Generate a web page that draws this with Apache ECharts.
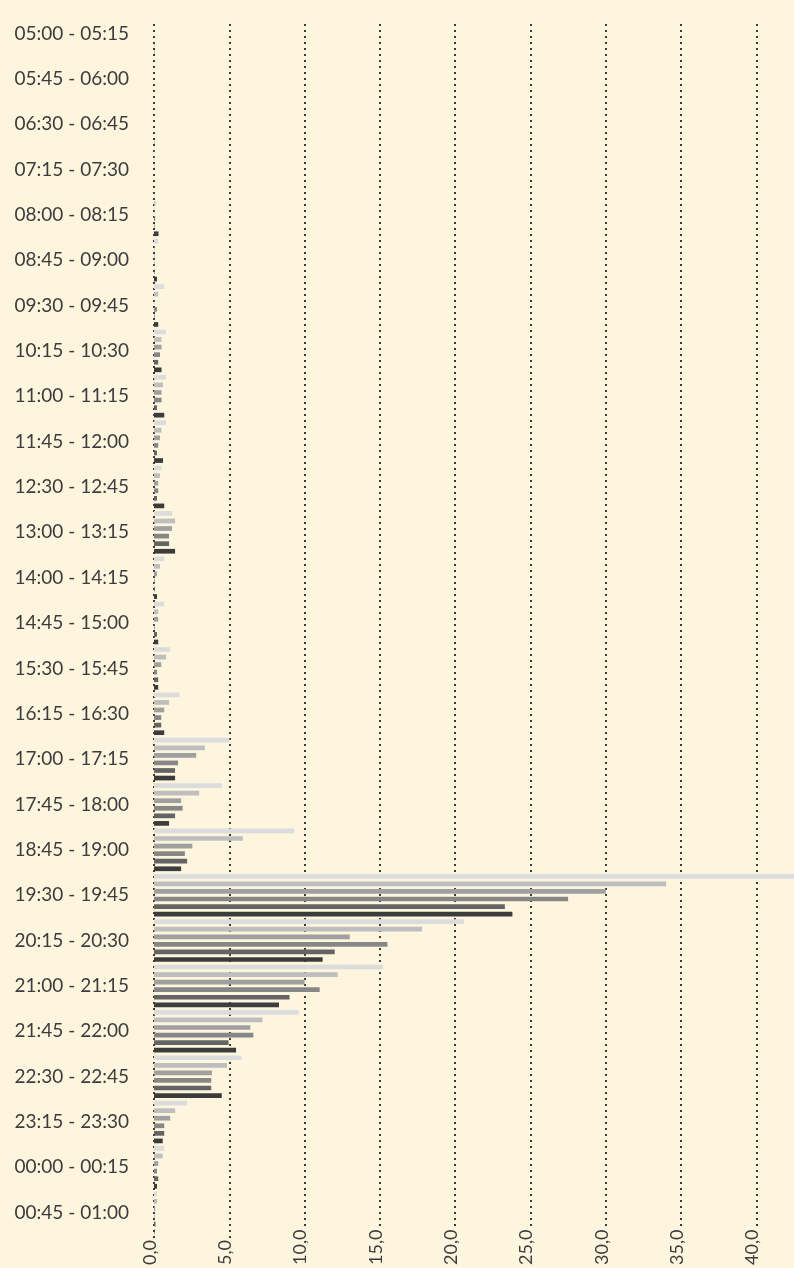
<!DOCTYPE html>
<html>
<head>
<meta charset="utf-8">
<script src="https://cdn.jsdelivr.net/npm/echarts@6/dist/echarts.min.js"></script>
<style>
  html, body { margin: 0; padding: 0; background: #fdf5de; }
  #chart { width: 794px; height: 1268px; }
</style>
</head>
<body>
<div id="chart"></div>
<script>
// Time-slot categories (top to bottom)
const categories = ['05:00 - 05:15','05:45 - 06:00','06:30 - 06:45','07:15 - 07:30','08:00 - 08:15','08:45 - 09:00','09:30 - 09:45','10:15 - 10:30','11:00 - 11:15','11:45 - 12:00','12:30 - 12:45','13:00 - 13:15','14:00 - 14:15','14:45 - 15:00','15:30 - 15:45','16:15 - 16:30','17:00 - 17:15','17:45 - 18:00','18:45 - 19:00','19:30 - 19:45','20:15 - 20:30','21:00 - 21:15','21:45 - 22:00','22:30 - 22:45','23:15 - 23:30','00:00 - 00:15','00:45 - 01:00'];

// Six series, lightest to darkest
const series1 = [0,0,0,0.02,0.05,0.28,0.68,0.8,0.8,0.8,0.5,1.2,0.68,0.68,1.08,1.68,5.0,4.5,9.3,42.5,20.6,15.2,9.6,5.8,2.2,0.68,0.2];
const series2 = [0,0,0,0.02,0.1,0.03,0.28,0.5,0.6,0.5,0.4,1.4,0.4,0.28,0.8,1.0,3.38,3.0,5.9,34.0,17.8,12.2,7.2,4.85,1.4,0.58,0.2];
const series3 = [0,0,0,0.02,0.03,0.03,0.02,0.5,0.5,0.4,0.28,1.2,0.2,0.28,0.48,0.68,2.8,1.8,2.55,30.0,13.0,10.0,6.4,3.85,1.08,0.28,0.08];
const series4 = [0,0,0,0,0.08,0.03,0.2,0.4,0.5,0.28,0.28,1.0,0.05,0.05,0.2,0.48,1.6,1.9,2.05,27.5,15.5,11.0,6.6,3.8,0.68,0.2,0.03];
const series5 = [0.02,0,0,0,0.03,0.04,0.04,0.28,0.2,0.2,0.2,1.0,0.05,0.2,0.28,0.48,1.4,1.4,2.2,23.3,12.0,9.0,4.95,3.8,0.68,0.28,0.1];
const series6 = [0.02,0,0.02,0,0.3,0.2,0.28,0.5,0.68,0.6,0.68,1.4,0.2,0.28,0.28,0.68,1.4,1.0,1.8,23.8,11.2,8.3,5.45,4.5,0.58,0.2,0.03];

// Value axis ticks
const xMin = 0;
const xMax = 42.5;
const xInterval = 5;

const allSeries = [series1, series2, series3, series4, series5, series6];
const colors = ['#dcdcdc', '#bebebe', '#a0a0a0', '#878787', '#646464', '#3c3c3c'];
const fontFamily = 'Lato, "Open Sans", sans-serif';

const chart = echarts.init(document.getElementById('chart'), null, { renderer: 'canvas' });

const hiddenAxisParts = { axisLine: { show: false }, axisTick: { show: false }, splitLine: { show: false } };

const option = {
  backgroundColor: '#fdf5de',
  animation: false,
  grid: [
    { left: 154, right: 0, top: 10.7, bottom: 32.6, containLabel: false },   // bars
    { left: 154, right: 0, top: 24, bottom: 2, containLabel: false },        // dotted grid lines
    { left: 150, right: 4, top: 10.7, bottom: 32.6, containLabel: false }    // x tick labels
  ],
  xAxis: [
    Object.assign({ type: 'value', gridIndex: 0, min: xMin, max: xMax, interval: xInterval,
      axisLabel: { show: false } }, hiddenAxisParts),
    {
      type: 'value', gridIndex: 1, min: xMin, max: xMax, interval: xInterval, z: 0,
      axisLine: { show: false }, axisTick: { show: false }, axisLabel: { show: false },
      splitLine: { show: true, showMaxLine: false, lineStyle: { color: '#3a3a3a', width: 2, type: [2, 4] } }
    },
    Object.assign({ type: 'value', gridIndex: 2, min: xMin, max: xMax, interval: xInterval, z: 10,
      axisLabel: {
        rotate: 90, align: 'left', margin: 30.6, showMaxLabel: false,
        fontFamily: fontFamily, fontSize: 18, color: '#3c3c3c',
        backgroundColor: '#fdf5de',
        formatter: v => v.toFixed(1).replace('.', ',')
      } }, hiddenAxisParts)
  ],
  yAxis: [
    Object.assign({
      type: 'category', gridIndex: 0, data: categories, inverse: true,
      axisLabel: { interval: 0, margin: 25, fontFamily: fontFamily, fontSize: 19, color: '#3c3c3c' }
    }, hiddenAxisParts),
    { type: 'value', gridIndex: 1, min: 0, max: 1, show: false },
    { type: 'value', gridIndex: 2, min: 0, max: 1, show: false }
  ],
  series: allSeries.map((d, i) => ({
    type: 'bar',
    name: 'Serie ' + (i + 1),
    xAxisIndex: 0,
    yAxisIndex: 0,
    data: d,
    barWidth: 4.7,
    barGap: '61%',
    itemStyle: { color: colors[i] },
    z: 2
  }))
};

chart.setOption(option);
</script>
</body>
</html>
